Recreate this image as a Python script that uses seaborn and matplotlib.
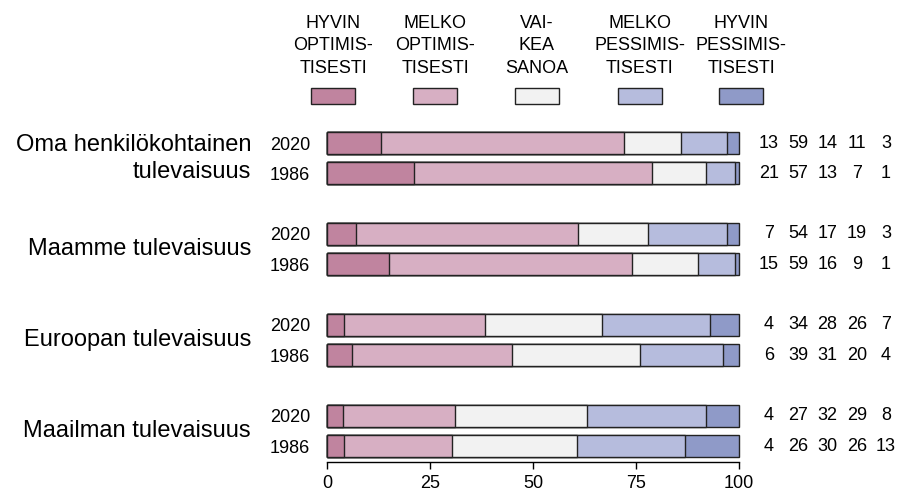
import numpy as np
import pandas as pd
import matplotlib
matplotlib.use("Agg")
import matplotlib.pyplot as plt
from matplotlib.patches import Rectangle
import seaborn as sns

# question groups (each has a 2020 row and a 1986 row)
groups = ["Oma henkilökohtainen\ntulevaisuus", "Maamme tulevaisuus",
          "Euroopan tulevaisuus", "Maailman tulevaisuus"]
years = ["2020", "1986"]

answers = ["HYVIN\nOPTIMIS-\nTISESTI", "MELKO\nOPTIMIS-\nTISESTI", "VAI-\nKEA\nSANOA",
           "MELKO\nPESSIMIS-\nTISESTI", "HYVIN\nPESSIMIS-\nTISESTI"]

# percentages, rows: group1 2020, group1 1986, group2 2020, ...
hyvin_opt = [13, 21, 7, 15, 4, 6, 4, 4]
melko_opt = [59, 57, 54, 59, 34, 39, 27, 26]
vaikea = [14, 13, 17, 16, 28, 31, 32, 30]
melko_pess = [11, 7, 19, 9, 26, 20, 29, 26]
hyvin_pess = [3, 1, 3, 1, 7, 4, 8, 13]

colors = ["#c0849f", "#d7afc3", "#f2f2f2", "#b6bcdd", "#8f9ac8"]
edge = "#222222"

vals = np.array([hyvin_opt, melko_opt, vaikea, melko_pess, hyvin_pess], dtype=float).T
# bars are drawn to full width, so scale each row to 100
shares = vals / vals.sum(axis=1, keepdims=True) * 100
cum = shares.cumsum(axis=1)

# row positions with one empty row between groups
pos = []
for g in range(len(groups)):
    pos += [3 * g, 3 * g + 1]
pos = np.array(pos, dtype=float)

sns.set_style("white")
plt.rcParams["font.family"] = ["Liberation Sans", "DejaVu Sans"]
plt.rcParams.update({"text.color": "black", "xtick.color": "black",
                     "ytick.color": "black", "axes.labelcolor": "black"})

fig = plt.figure(figsize=(8.98, 4.9), dpi=100)
W, H = 898, 490
ax = fig.add_axes([327 / W, 28 / H, 412 / W, (462 - 120) / H])

# stacked bars: draw cumulative totals from the widest down
for k in range(len(answers) - 1, -1, -1):
    df = pd.DataFrame({"value": cum[:, k], "row": pos})
    sns.barplot(data=df, x="value", y="row", orient="y", native_scale=True,
                width=0.73, color=colors[k], saturation=1, edgecolor=edge,
                linewidth=1.0, errorbar=None, ax=ax)

for p in ax.patches:
    p.set_clip_on(False)

ax.set_xlim(0, 100)
ax.set_ylim(10 + 16 / 30.3, -23 / 30.3)
ax.set_xlabel("")
ax.set_ylabel("")

for side in ["top", "right", "left"]:
    ax.spines[side].set_visible(False)
ax.spines["bottom"].set_bounds(0, 100)
ax.spines["bottom"].set_color("black")
ax.spines["bottom"].set_linewidth(1.0)
ax.set_xticks([0, 25, 50, 75, 100])
ax.tick_params(axis="x", bottom=True, length=5, width=1.0, color="black",
               labelsize=13, pad=4)
ax.set_yticks(pos, years * len(groups))
ax.tick_params(axis="y", left=False, labelsize=13, pad=8.5)

# group labels
for g, name in enumerate(groups):
    ax.text(-76 / 4.12, 3 * g + 0.5, name, ha="right", va="center",
            ma="right", fontsize=17, linespacing=1.3, clip_on=False)

# numbers at the right
for i, row in enumerate(vals.astype(int)):
    for k, v in enumerate(row):
        ax.text(107.3 + 7.1 * k, pos[i], str(v), ha="center", va="center",
                fontsize=13, clip_on=False)

# legend above the bars
leg_x = [333, 435, 537, 640, 741]
for k, lab in enumerate(answers):
    fig.text(leg_x[k] / W, 1 - 46 / H, lab, ha="center", va="center",
             ma="center", fontsize=13, linespacing=1.4)
    fig.patches.append(Rectangle(((leg_x[k] - 22) / W, 1 - 104 / H), 44 / W, 16 / H,
                                 transform=fig.transFigure, facecolor=colors[k],
                                 edgecolor=edge, linewidth=1.0))

fig.savefig("out.png", dpi=100)
